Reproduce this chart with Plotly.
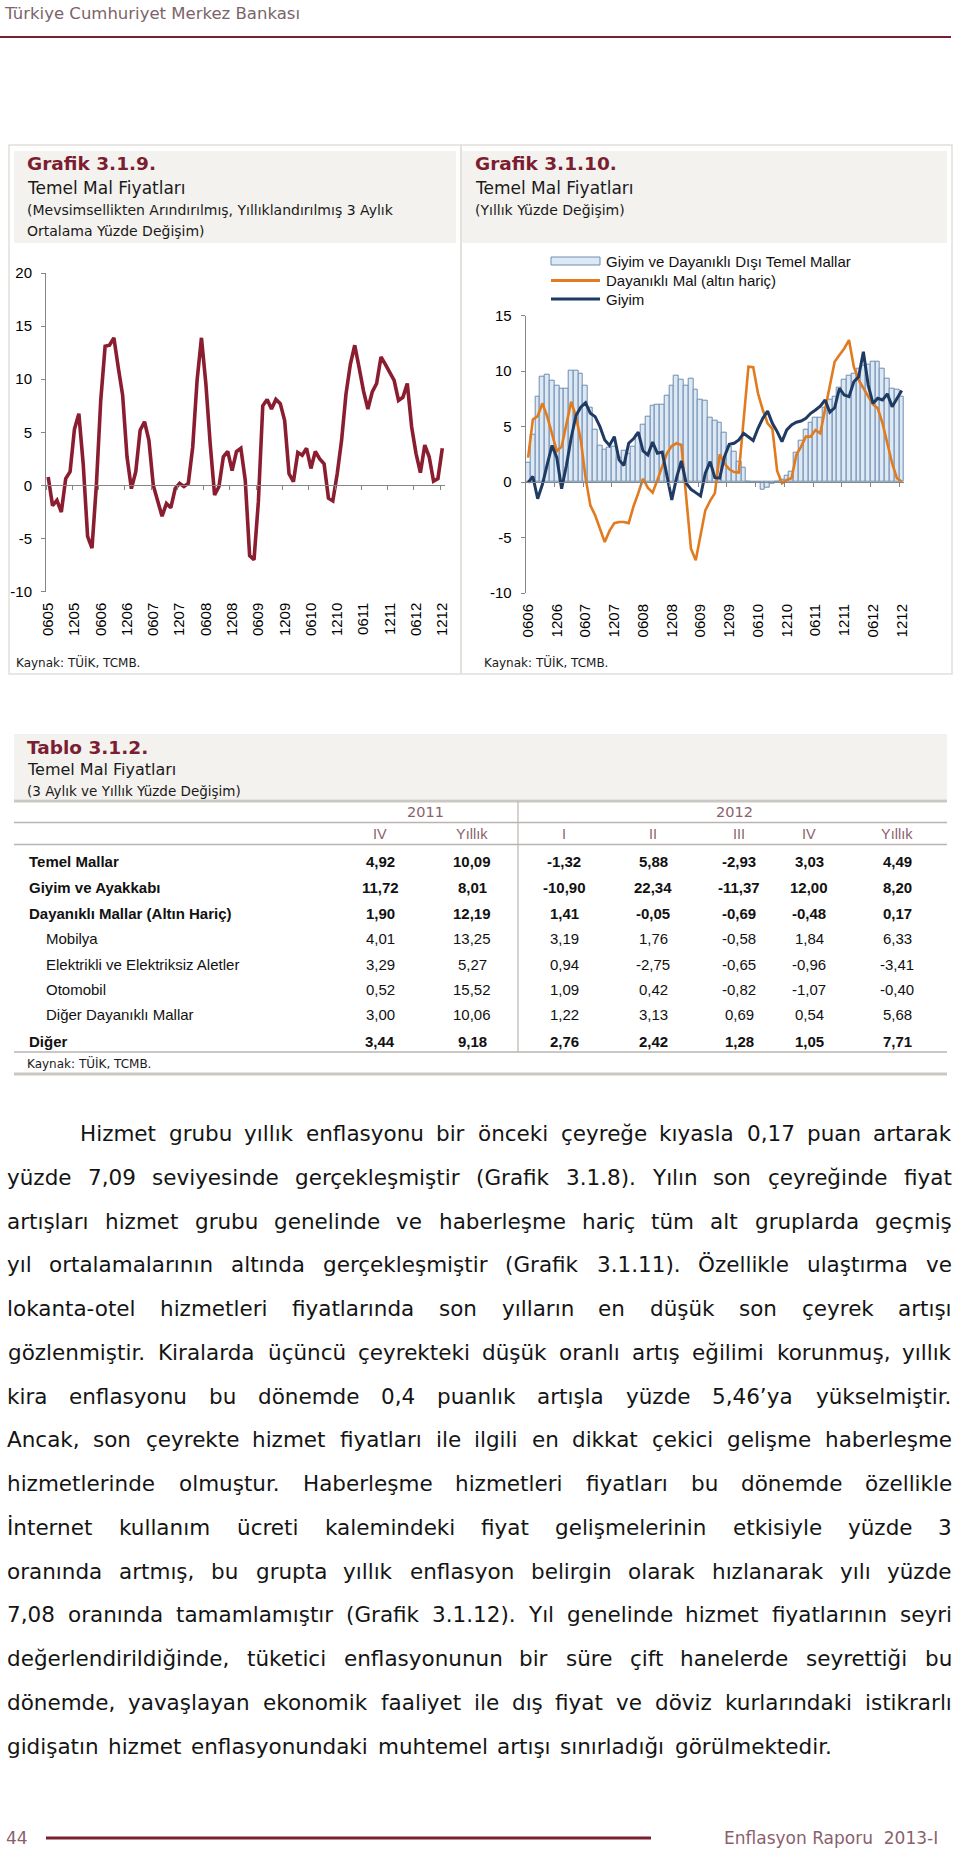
import plotly.graph_objects as go

W, H = 960, 1850

# Grafik 3.1.9 - Temel mal fiyatları (mevsimsellikten arındırılmış, yıllıklandırılmış 3 aylık ort. % değişim)
g9_values = [0.8, -1.9, -1.4, -2.5, 0.65, 1.3, 5.3, 6.75, 2.0, -4.8, -5.9, 0.0, 8.0, 13.1, 13.2, 13.9,
             11.1, 8.5, 2.7, -0.3, 1.3, 5.2, 6.0, 4.25, 0.0, -1.6, -2.9, -1.7, -2.1, -0.3, 0.2, -0.1,
             0.2, 3.6, 9.9, 13.9, 9.6, 3.9, -0.9, -0.1, 2.7, 3.2, 1.4, 3.2, 3.5, 0.5, -6.6, -7.0,
             -1.5, 7.5, 8.1, 7.2, 8.1, 7.7, 6.1, 1.1, 0.35, 3.1, 2.85, 3.5, 1.6, 3.2, 2.5, 2.05,
             -1.2, -1.45, 1.1, 4.25, 8.6, 11.4, 13.2, 11.1, 8.9, 7.2, 8.8, 9.6, 12.1, 11.4, 10.7, 9.9,
             8.0, 8.3, 9.6, 5.5, 3.0, 1.2, 3.8, 2.7, 0.4, 0.65, 3.5]

# Grafik 3.1.10 - Temel mal fiyatları (yıllık % değişim)
g10_bars = [1.75, 4.3, 7.7, 9.5, 9.65, 9.1, 8.7, 8.45, 8.45, 10.0, 10.05, 9.8, 8.65, 6.7, 4.75, 3.25,
            2.95, 3.1, 3.2, 2.2, 2.8, 2.6, 3.2, 4.3, 5.2, 5.9, 6.85, 7.0, 7.0, 7.8, 8.7, 9.6,
            9.2, 8.7, 9.3, 8.3, 7.4, 7.3, 5.8, 5.5, 5.35, 4.45, 3.2, 2.7, 1.8, 1.3, 0.05, -0.05,
            -0.05, -0.65, -0.5, -0.15, 0.05, 0.25, 0.55, 0.95, 2.65, 3.7, 4.7, 5.35, 5.8, 5.8, 6.7, 7.4,
            7.7, 8.5, 9.2, 9.55, 9.8, 10.25, 10.45, 10.6, 10.85, 10.85, 10.25, 9.35, 8.45, 8.3, 7.7]
g10_durable = [2.2, 5.65, 5.95, 7.1, 5.9, 4.25, 2.8, 3.2, 5.3, 7.25, 5.9, 3.8, 0.4, -2.1, -3.0, -4.3,
               -5.4, -4.4, -3.7, -3.6, -3.6, -3.7, -2.2, -1.0, 0.3, -0.5, -0.95, 0.2, 1.5, 2.6, 3.25, 3.5,
               3.35, -1.5, -6.0, -7.05, -4.95, -2.55, -1.7, -1.0, 2.5, 1.7, 1.15, 0.9, 0.85, 5.5, 10.4, 10.35,
               8.0, 6.5, 5.3, 4.8, 1.0, -0.1, 0.2, 0.35, 2.45, 3.2, 4.1, 4.1, 4.7, 4.4, 6.5, 8.9,
               10.85, 11.45, 12.05, 12.8, 10.4, 9.2, 8.45, 7.7, 7.0, 6.65, 5.3, 3.5, 1.7, 0.35, 0.05]
g10_clothing = [-0.05, 0.5, -1.5, -0.2, 1.6, 3.3, 2.2, -0.6, 1.5, 4.0, 6.0, 6.75, 7.15, 6.2, 5.9, 5.0,
                3.8, 3.3, 4.1, 2.0, 1.5, 3.5, 3.9, 4.5, 2.8, 2.45, 3.6, 2.6, 2.7, 0.6, -1.6, 0.4,
                1.9, -0.1, -0.65, -0.95, -1.25, 0.8, 1.85, 0.4, 0.35, 2.3, 3.4, 3.5, 3.8, 4.4, 4.05, 3.75,
                4.85, 5.75, 6.4, 5.3, 4.55, 3.65, 4.7, 5.15, 5.4, 5.5, 5.75, 6.2, 6.5, 6.85, 7.4, 6.3,
                6.7, 8.45, 7.85, 7.7, 9.05, 9.5, 11.75, 8.75, 7.1, 7.55, 7.4, 7.95, 6.8, 7.55, 8.25]
g10_names = ["Giyim ve Dayanıklı Dışı Temel Mallar", "Dayanıklı Mal (altın hariç)", "Giyim"]

g9_yticks = [-10, -5, 0, 5, 10, 15, 20]
g10_yticks = [-10, -5, 0, 5, 10, 15]


def month_codes(year, month, n):
    codes = []
    for _ in range(n):
        codes.append(f"{month:02d}{year % 100:02d}")
        month += 1
        if month == 13:
            month, year = 1, year + 1
    return codes


g9_months = month_codes(2005, 6, len(g9_values))
g10_months = month_codes(2006, 6, len(g10_bars))

# Tablo 3.1.2
table_years = ["2011", "2012"]
table_cols = ["IV", "Yıllık", "I", "II", "III", "IV", "Yıllık"]
table_rows = ["Temel Mallar", "Giyim ve Ayakkabı", "Dayanıklı Mallar (Altın Hariç)", "Mobilya",
              "Elektrikli ve Elektriksiz Aletler", "Otomobil", "Diğer Dayanıklı Mallar", "Diğer"]
table_bold = [True, True, True, False, False, False, False, True]
table_values = [
    ["4,92", "10,09", "-1,32", "5,88", "-2,93", "3,03", "4,49"],
    ["11,72", "8,01", "-10,90", "22,34", "-11,37", "12,00", "8,20"],
    ["1,90", "12,19", "1,41", "-0,05", "-0,69", "-0,48", "0,17"],
    ["4,01", "13,25", "3,19", "1,76", "-0,58", "1,84", "6,33"],
    ["3,29", "5,27", "0,94", "-2,75", "-0,65", "-0,96", "-3,41"],
    ["0,52", "15,52", "1,09", "0,42", "-0,82", "-1,07", "-0,40"],
    ["3,00", "10,06", "1,22", "3,13", "0,69", "0,54", "5,68"],
    ["3,44", "9,18", "2,76", "2,42", "1,28", "1,05", "7,71"],
]

body_lines = [
    "Hizmet grubu yıllık enflasyonu bir önceki çeyreğe kıyasla 0,17 puan artarak",
    "yüzde 7,09 seviyesinde gerçekleşmiştir (Grafik 3.1.8). Yılın son çeyreğinde fiyat",
    "artışları hizmet grubu genelinde ve haberleşme hariç tüm alt gruplarda geçmiş",
    "yıl ortalamalarının altında gerçekleşmiştir (Grafik 3.1.11). Özellikle ulaştırma ve",
    "lokanta-otel hizmetleri fiyatlarında son yılların en düşük son çeyrek artışı",
    "gözlenmiştir. Kiralarda üçüncü çeyrekteki düşük oranlı artış eğilimi korunmuş, yıllık",
    "kira enflasyonu bu dönemde 0,4 puanlık artışla yüzde 5,46’ya yükselmiştir.",
    "Ancak, son çeyrekte hizmet fiyatları ile ilgili en dikkat çekici gelişme haberleşme",
    "hizmetlerinde olmuştur. Haberleşme hizmetleri fiyatları bu dönemde özellikle",
    "İnternet kullanım ücreti kalemindeki fiyat gelişmelerinin etkisiyle yüzde 3",
    "oranında artmış, bu grupta yıllık enflasyon belirgin olarak hızlanarak yılı yüzde",
    "7,08 oranında tamamlamıştır (Grafik 3.1.12). Yıl genelinde hizmet fiyatlarının seyri",
    "değerlendirildiğinde, tüketici enflasyonunun bir süre çift hanelerde seyrettiği bu",
    "dönemde, yavaşlayan ekonomik faaliyet ile dış fiyat ve döviz kurlarındaki istikrarlı",
    "gidişatın hizmet enflasyonundaki muhtemel artışı sınırladığı görülmektedir.",
]

# colours / fonts
MAROON = "#7b1e32"
MAUVE = "#8a5f6c"
AXIS = "#868686"
BODY = "DejaVu Sans, Noto Sans, sans-serif"
ARIAL = "Liberation Sans, Arial, sans-serif"

# approximate DejaVu Sans advance widths (units per em 2048) for justification
DV = {" ": 651, ",": 651, ".": 651, "(": 799, ")": 799, "'": 563, "’": 651, "-": 739, ":": 690}
DV.update({d: 1303 for d in "0123456789"})
DV.update(dict(zip("ABCDEFGHIJKLMNOPQRSTUVWXYZ",
                   [1401, 1405, 1430, 1577, 1294, 1178, 1589, 1540, 604, 604, 1343, 1141, 1767, 1532,
                    1612, 1235, 1612, 1423, 1300, 1251, 1499, 1401, 2025, 1403, 1251, 1403])))
DV.update(dict(zip("abcdefghijklmnopqrstuvwxyz",
                   [1255, 1300, 1126, 1300, 1260, 721, 1300, 1298, 569, 569, 1186, 569, 1995, 1298,
                    1253, 1300, 1300, 842, 1067, 803, 1298, 1212, 1675, 1212, 1212, 1075])))
DV.update({"ç": 1126, "ğ": 1300, "ı": 569, "ş": 1067, "ö": 1253, "ü": 1298,
           "İ": 604, "Ö": 1612, "Ü": 1499, "Ç": 1430, "Ş": 1300, "Ğ": 1589})


def width_em(s):
    return sum(DV.get(c, 1300) for c in s) / 2048


def px(x):
    return x / W


def py(y):
    return 1 - y / H


annotations = []
shapes = []


def text(x, y, s, size, color="#1a1a1a", family=BODY, anchor="left", bold=False):
    annotations.append(dict(x=px(x), y=py(y), xref="paper", yref="paper",
                            text=f"<b>{s}</b>" if bold else s, showarrow=False,
                            xanchor=anchor, yanchor="middle",
                            font=dict(size=size, color=color, family=family)))


def rect(x0, y0, x1, y1, fill="rgba(0,0,0,0)", line=None, lw=1):
    shapes.append(dict(type="rect", xref="paper", yref="paper", layer="below",
                       x0=px(x0), x1=px(x1), y0=py(y1), y1=py(y0), fillcolor=fill,
                       line=dict(color=line or "rgba(0,0,0,0)", width=lw if line else 0)))


def seg(x0, y0, x1, y1, color, width):
    shapes.append(dict(type="line", xref="paper", yref="paper",
                       x0=px(x0), x1=px(x1), y0=py(y0), y1=py(y1),
                       line=dict(color=color, width=width)))


# ---- page header
text(2, 13, "Türkiye Cumhuriyet Merkez Bankası", 16.5, color="#7a6468")
seg(0, 37, 951, 37, MAROON, 2)

# ---- chart panels
rect(9, 145, 461, 674, line="#e2dfda", lw=1.5)
rect(461, 145, 952, 674, line="#e2dfda", lw=1.5)
rect(14, 151, 456, 243, fill="#f4f2ee")
rect(462, 151, 947, 243, fill="#f4f2ee")
text(25, 164, "Grafik 3.1.9.", 18.5, color=MAROON, bold=True)
text(25, 188, "Temel Mal Fiyatları", 17)
text(25, 210, "(Mevsimsellikten Arındırılmış, Yıllıklandırılmış 3 Aylık", 14)
text(25, 231, "Ortalama Yüzde Değişim)", 14)
text(473, 164, "Grafik 3.1.10.", 18.5, color=MAROON, bold=True)
text(473, 188, "Temel Mal Fiyatları", 17)
text(473, 210, "(Yıllık Yüzde Değişim)", 14)
text(14, 662, "Kaynak: TÜİK, TCMB.", 12)
text(482, 662, "Kaynak: TÜİK, TCMB.", 12)

# legend of Grafik 3.1.10 (drawn by hand to match the swatch sizes)
leg_y = [261, 280.5, 299]
rect(551, 257, 600, 265, fill="#dce8f4", line="#6f8db0", lw=1)
seg(551, leg_y[1], 600, leg_y[1], "#e27a1e", 3)
seg(551, leg_y[2], 600, leg_y[2], "#1f3b63", 3)
for yy, name in zip(leg_y, g10_names):
    text(604, yy, name, 15, color="#111", family=ARIAL)

# plot areas (pixels)
g9_x = (46, 444.5)
g9_y = (591.7, 273)
g10_x = (525.7, 904.1)
g10_y = (593, 315.7)

g9_dom_y = [py(g9_y[0]), py(g9_y[1])]
g10_dom_y = [py(g10_y[0]), py(g10_y[1])]
g9_zero = g9_dom_y[0] + (0 - g9_yticks[0]) / (g9_yticks[-1] - g9_yticks[0]) * (g9_dom_y[1] - g9_dom_y[0])
g10_zero = g10_dom_y[0] + (0 - g10_yticks[0]) / (g10_yticks[-1] - g10_yticks[0]) * (g10_dom_y[1] - g10_dom_y[0])

fig = go.Figure()

# invisible helpers so the zero-line axes get drawn
fig.add_trace(go.Scatter(x=[-0.5, len(g9_values) - 0.5], y=[0, 0], xaxis="x3", yaxis="y",
                         mode="lines", opacity=0, hoverinfo="skip", showlegend=False))
fig.add_trace(go.Scatter(x=[-0.5, len(g10_bars) - 0.5], y=[0, 0], xaxis="x4", yaxis="y2",
                         mode="lines", opacity=0, hoverinfo="skip", showlegend=False))

fig.add_trace(go.Scatter(x=g9_months, y=g9_values, xaxis="x", yaxis="y", mode="lines",
                         line=dict(color="#8b1d30", width=3.6), showlegend=False))

fig.add_trace(go.Bar(x=g10_months, y=g10_bars, xaxis="x2", yaxis="y2", name=g10_names[0],
                     marker=dict(color="#dce8f4", line=dict(color="#6f8db0", width=1))))
fig.add_trace(go.Scatter(x=g10_months, y=g10_durable, xaxis="x2", yaxis="y2", mode="lines",
                         name=g10_names[1], line=dict(color="#e27a1e", width=2.6)))
fig.add_trace(go.Scatter(x=g10_months, y=g10_clothing, xaxis="x2", yaxis="y2", mode="lines",
                         name=g10_names[2], line=dict(color="#1f3b63", width=3)))

tickfont = dict(family=ARIAL, size=15, color="#000")


def label_axis(dom, cats):
    return dict(domain=[px(dom[0]), px(dom[1])], type="category", range=[-0.5, len(cats) - 0.5],
                tickmode="array", tickvals=cats[::6], ticktext=cats[::6], tickangle=-90,
                ticks="", showline=False, showgrid=False, zeroline=False, tickfont=tickfont,
                ticklabelstandoff=7, automargin=False, fixedrange=True)


def zero_axis(dom, n, pos):
    return dict(domain=[px(dom[0]), px(dom[1])], overlaying="x" if n == len(g9_values) else "x2",
                anchor="free", position=pos, range=[-0.5, n - 0.5], tickmode="array",
                tickvals=[k - 0.5 for k in range(0, n, 6)], ticks="outside", ticklen=4,
                tickcolor=AXIS, showline=True, linecolor=AXIS, linewidth=1,
                showticklabels=False, showgrid=False, zeroline=False, automargin=False)


def value_axis(dom, ticks, anchor):
    return dict(domain=dom, range=[ticks[0], ticks[-1]], tickmode="array", tickvals=ticks,
                ticktext=[str(t) for t in ticks], showline=True, linecolor=AXIS, linewidth=1,
                ticks="outside", ticklen=4, tickcolor=AXIS, showgrid=False, zeroline=False,
                tickfont=tickfont, ticklabelstandoff=6, anchor=anchor, automargin=False)


fig.update_layout(
    xaxis=dict(label_axis(g9_x, g9_months), anchor="y"),
    yaxis=value_axis(g9_dom_y, g9_yticks, "x"),
    xaxis2=dict(label_axis(g10_x, g10_months), anchor="y2"),
    yaxis2=value_axis(g10_dom_y, g10_yticks, "x2"),
    xaxis3=zero_axis(g9_x, len(g9_values), g9_zero),
    xaxis4=zero_axis(g10_x, len(g10_bars), g10_zero),
)

# ---- Tablo 3.1.2
rect(14, 734, 947, 799, fill="#f4f2ee")
text(25, 747, "Tablo 3.1.2.", 18.5, color=MAROON, bold=True)
text(25, 770, "Temel Mal Fiyatları", 16)
text(25, 791, "(3 Aylık ve Yıllık Yüzde Değişim)", 13.5)
seg(14, 801, 947, 801, "#cbc7c2", 3)
seg(14, 822.5, 947, 822.5, "#b9b5b0", 1.5)
seg(14, 844.5, 947, 844.5, "#b9b5b0", 1.5)
seg(14, 1052, 947, 1052, "#b9b5b0", 1.5)
seg(14, 1074, 947, 1074, "#cbc7c2", 3)
seg(518, 801, 518, 1052, "#b9b5b0", 1.2)
col_x = [380, 472, 564, 653, 739, 809, 897]
text(425, 812, table_years[0], 14.5, color=MAUVE, anchor="center")
text(734, 812, table_years[1], 14.5, color=MAUVE, anchor="center")
for cx, c in zip(col_x, table_cols):
    text(cx, 834, c, 14.5, color=MAUVE, family=ARIAL, anchor="center")
row_y = [861, 887, 913, 938, 964, 989, 1015, 1041]
for ry, name, bold, vals in zip(row_y, table_rows, table_bold, table_values):
    text(27 if bold else 44, ry, name, 15, color="#111", family=ARIAL, bold=bold)
    for cx, v in zip(col_x, vals):
        text(cx, ry, v, 15, color="#111", family=ARIAL, anchor="center", bold=bold)
text(25, 1063, "Kaynak: TÜİK, TCMB.", 12)

# ---- body text, justified word by word
BODY_LEFT, BODY_INDENT, BODY_RIGHT = 7, 80, 952
body_y = [1133, 1177, 1221, 1264, 1308, 1352, 1396, 1439, 1483, 1527, 1571, 1614, 1658, 1702, 1746]
body_fs = 21.5
for i, line in enumerate(body_lines[:-1]):
    words = line.split()
    left = BODY_INDENT if i == 0 else BODY_LEFT
    need = sum(width_em(w) for w in words) + width_em(" ") * (len(words) - 1)
    body_fs = min(body_fs, (BODY_RIGHT - left) / need)

for i, (line, yy) in enumerate(zip(body_lines, body_y)):
    left = BODY_INDENT if i == 0 else BODY_LEFT
    words = line.split()
    widths = [width_em(w) * body_fs for w in words]
    if i == len(body_lines) - 1:
        gap = width_em(" ") * body_fs * 1.4
    else:
        gap = (BODY_RIGHT - left - sum(widths)) / (len(words) - 1)
    cursor = left
    for w, ww in zip(words, widths):
        text(cursor + ww / 2, yy, w, body_fs, color="#141414", anchor="center")
        cursor += ww + gap

# ---- footer
text(4, 1838, "44", 17, color=MAUVE)
seg(46, 1838, 651, 1838, MAROON, 3)
text(940, 1838, "Enflasyon Raporu  2013-I", 17, color=MAUVE, anchor="right")

fig.update_layout(
    width=W, height=H, autosize=False,
    margin=dict(l=0, r=0, t=0, b=0, autoexpand=False),
    paper_bgcolor="white", plot_bgcolor="rgba(0,0,0,0)",
    showlegend=False, bargap=0,
    annotations=annotations, shapes=shapes,
)

# the page's default body margin would push the 960x1850 figure out of the window
fig.write_html("out.html", config={"displayModeBar": False},
               post_script="document.body.style.margin='0';document.body.style.overflow='hidden';")
